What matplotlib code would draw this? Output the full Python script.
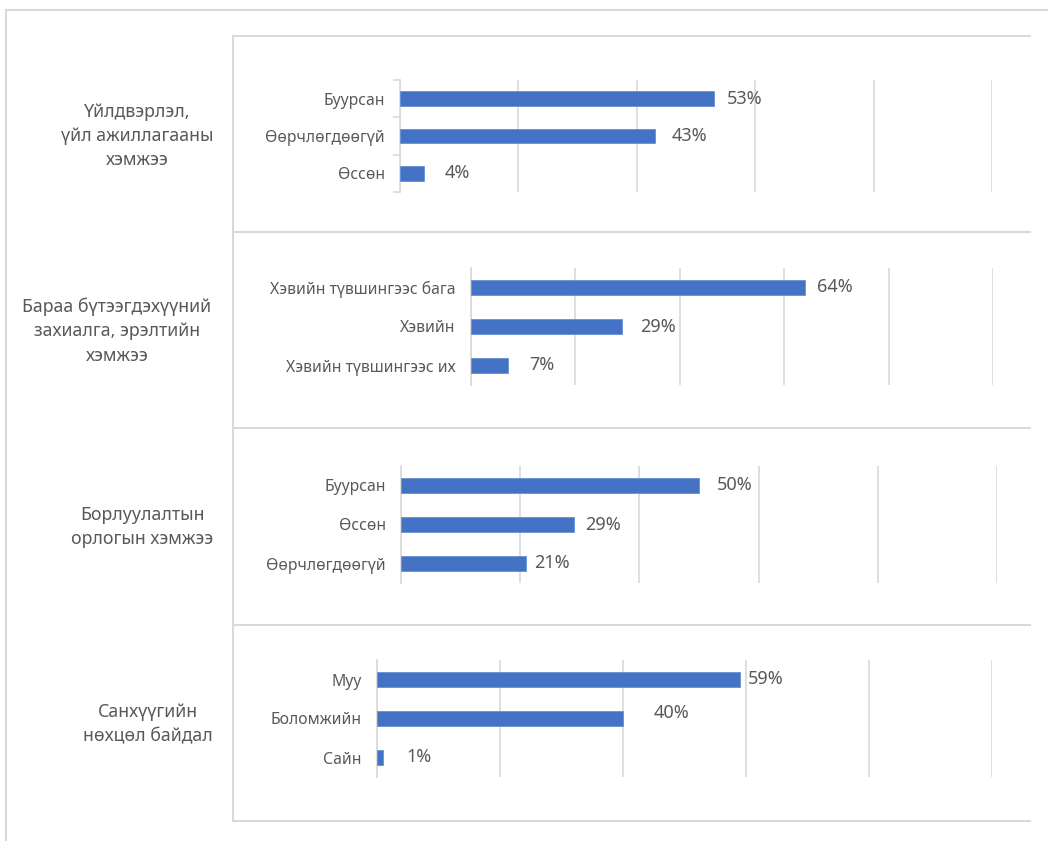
import matplotlib.pyplot as plt
from matplotlib.lines import Line2D

plt.rcParams['font.family'] = ['Noto Sans', 'DejaVu Sans']

W, H = 1048, 841

section_titles = [
    "Үйлдвэрлэл,\nүйл ажиллагааны\nхэмжээ",
    "Бараа бүтээгдэхүүний\nзахиалга, эрэлтийн\nхэмжээ",
    "Борлуулалтын\nорлогын хэмжээ",
    "Санхүүгийн\nнөхцөл байдал",
]

cats_production = ["Буурсан", "Өөрчлөгдөөгүй", "Өссөн"]
vals_production = [0.53, 0.43, 0.04]

cats_demand = ["Хэвийн түвшингээс бага", "Хэвийн", "Хэвийн түвшингээс их"]
vals_demand = [0.64, 0.29, 0.07]

cats_sales = ["Буурсан", "Өссөн", "Өөрчлөгдөөгүй"]
vals_sales = [0.50, 0.29, 0.21]

cats_finance = ["Муу", "Боломжийн", "Сайн"]
vals_finance = [0.59, 0.40, 0.01]

panels = [
    (cats_production, vals_production),
    (cats_demand, vals_demand),
    (cats_sales, vals_sales),
    (cats_finance, vals_finance),
]

# layout in pixels: axes box (x0, x1, y0, y1), label offsets (dx, dy), title centres
axes_px = [(400, 992, 80, 192), (471, 993, 268, 385),
           (401, 997, 466, 583), (377, 992, 660, 777)]
label_dx = [[13, 17, 21], [12, 18, 22], [18, 11, 8], [8, 31, 23]]
label_dy = [[0, 0, 0], [0, 0, 0], [0, 0, 0], [0, 5, 0]]
title_x = [137, 117, 142, 148]
title_y = [136, 331, 527, 724]
row_lines = [36, 232, 428, 625, 821]

BAR = '#4472C4'
GRID = '#d9d9d9'
TXT = '#595959'

fig = plt.figure(figsize=(W / 100, H / 100), dpi=100)


def fx(x):
    return x / W


def fy(y):
    return 1 - y / H


# outer border (cut off at right and bottom) and panel grid lines
fig.add_artist(Line2D([fx(6), fx(6)], [fy(10), 0], color=GRID, lw=1.5))
fig.add_artist(Line2D([fx(6), 1], [fy(10), fy(10)], color=GRID, lw=1.5))
fig.add_artist(Line2D([fx(233), fx(233)], [fy(36), fy(821)], color=GRID, lw=1.5))
for yl in row_lines:
    fig.add_artist(Line2D([fx(233), fx(1030)], [fy(yl), fy(yl)], color=GRID, lw=1.5))

for i, ((cats, vals), (x0, x1, y0, y1)) in enumerate(zip(panels, axes_px)):
    ax = fig.add_axes([fx(x0), fy(y1), (x1 - x0) / W, (y1 - y0) / H])
    ypos = list(range(len(cats)))
    ax.barh(ypos, vals, height=0.4, color=BAR, edgecolor='#6a8fd3', linewidth=0.6, zorder=3)
    ax.set_xlim(0, 1)
    ax.set_ylim(2.5, -0.5)
    ax.set_xticks([0, 0.2, 0.4, 0.6, 0.8, 1.0])
    ax.xaxis.grid(True, color=GRID, lw=1.2)
    ax.tick_params(axis='x', length=0, labelbottom=False)
    ax.set_yticks(ypos)
    ax.set_yticklabels(cats, color=TXT, fontsize=11.3)
    ax.tick_params(axis='y', length=0, pad=11)
    for s in ['top', 'right', 'bottom']:
        ax.spines[s].set_visible(False)
    ax.spines['left'].set_color(GRID)
    ax.spines['left'].set_linewidth(1.2)
    if i == 0:
        ax.set_yticks([-0.5, 0.5, 1.5, 2.5], minor=True)
        ax.tick_params(axis='y', which='minor', length=5, color=GRID, width=1.2)

    for k, v in enumerate(vals):
        ax.annotate(f"{round(v * 100)}%", (v, k), xytext=(label_dx[i][k], label_dy[i][k]),
                    textcoords='offset pixels', ha='left', va='center',
                    color=TXT, fontsize=13)

    fig.text(fx(title_x[i]), fy(title_y[i]), section_titles[i], ha='center', va='center',
             color=TXT, fontsize=12.8, linespacing=1.45)

fig.savefig('out.png', dpi=100)
